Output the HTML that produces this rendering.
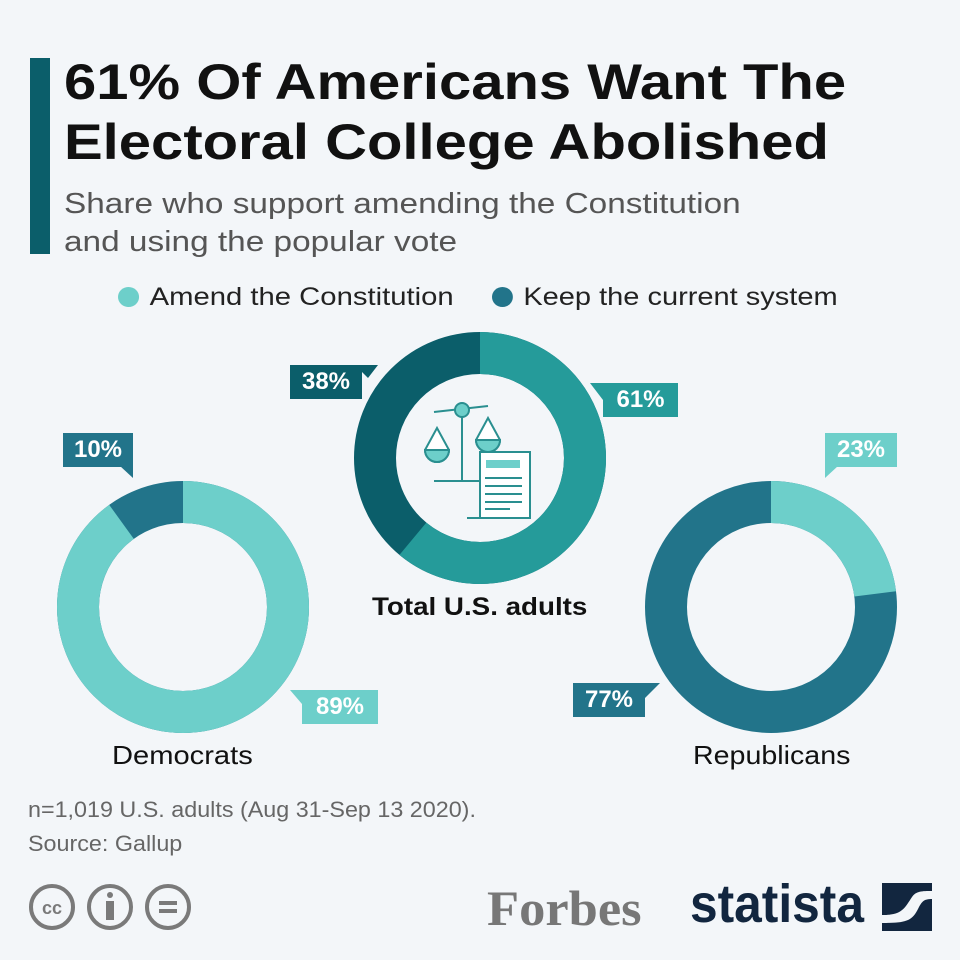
<!DOCTYPE html>
<html><head><style>
body{margin:0;width:960px;height:960px;background:#f3f6f9;font-family:"Liberation Sans",sans-serif;position:relative;overflow:hidden}
.a{position:absolute;white-space:nowrap;transform-origin:left top}
.lb{position:absolute;color:#fff;font-weight:bold;font-size:24px;text-align:center;line-height:34px;height:34px}
</style></head><body>
<div class="a" style="left:30px;top:58px;width:20px;height:196px;background:#0b5e6a"></div>
<div class="a" style="left:64px;top:52px;font-size:50px;font-weight:bold;line-height:60px;color:#111;transform:scaleX(1.16)">61% Of Americans Want The<br>Electoral College Abolished</div>
<div class="a" style="left:64px;top:185px;font-size:29px;line-height:38px;color:#555;transform:scaleX(1.15)">Share who support amending the Constitution<br>and using the popular vote</div>
<div class="a" style="left:118px;top:283px;font-size:25px;color:#222;transform:scaleX(1.17)"><span style="display:inline-block;width:18px;height:20px;border-radius:50%;background:#6dcfca;vertical-align:-2px;margin-right:9px"></span>Amend the Constitution</div>
<div class="a" style="left:492px;top:283px;font-size:25px;color:#222;transform:scaleX(1.16)"><span style="display:inline-block;width:18px;height:20px;border-radius:50%;background:#22748a;vertical-align:-2px;margin-right:9px"></span>Keep the current system</div>
<svg class="a" style="left:0;top:0" width="960" height="960">
<g transform="rotate(-90 480 458)" fill="none" stroke-width="42">
<circle cx="480" cy="458" r="105" stroke="#0b5e6a"/>
<circle cx="480" cy="458" r="105" stroke="#259b9a" stroke-dasharray="402.5 1000"/>
</g>
<g transform="rotate(-90 183 607)" fill="none" stroke-width="42">
<circle cx="183" cy="607" r="105" stroke="#22748a"/>
<circle cx="183" cy="607" r="105" stroke="#6dcfca" stroke-dasharray="593.8 1000"/>
</g>
<g transform="rotate(-90 771 607)" fill="none" stroke-width="42">
<circle cx="771" cy="607" r="105" stroke="#22748a"/>
<circle cx="771" cy="607" r="105" stroke="#6dcfca" stroke-dasharray="151.7 1000"/>
</g>
<g fill="none" stroke="#2a8f90" stroke-width="2">
<line x1="434" y1="412" x2="488" y2="406"/><circle cx="462" cy="410" r="7" fill="#6dcfca"/>
<line x1="462" y1="417" x2="462" y2="480"/><line x1="434" y1="481" x2="480" y2="481"/>
<path d="M437 428 L425 450 A12 12 0 0 0 449 450 Z" fill="#fff"/><path d="M425 450 A12 12 0 0 0 449 450Z" fill="#6dcfca"/>
<path d="M488 418 L476 440 A12 12 0 0 0 500 440 Z" fill="#fff"/><path d="M476 440 A12 12 0 0 0 500 440Z" fill="#6dcfca"/>
<rect x="480" y="452" width="50" height="66" fill="#fff"/>
<rect x="486" y="460" width="34" height="8" fill="#6dcfca" stroke="none"/>
<line x1="485" y1="478" x2="522" y2="478"/><line x1="485" y1="486" x2="522" y2="486"/><line x1="485" y1="494" x2="522" y2="494"/><line x1="485" y1="502" x2="522" y2="502"/><line x1="485" y1="509" x2="510" y2="509"/>
<line x1="467" y1="518" x2="520" y2="518"/>
</g>
<polygon points="355,365 378,365 368,378" fill="#0b5e6a"/>
<polygon points="603,383 590,383 603,400" fill="#259b9a"/>
<polygon points="120,466 133,466 133,478" fill="#22748a"/>
<polygon points="302,690 290,690 302,704" fill="#6dcfca"/>
<polygon points="825,466 838,466 825,478" fill="#6dcfca"/>
<polygon points="645,683 660,683 645,698" fill="#22748a"/>
</svg>
<div class="lb" style="left:290px;top:365px;width:72px;background:#0b5e6a">38%</div>
<div class="lb" style="left:603px;top:383px;width:75px;background:#259b9a">61%</div>
<div class="lb" style="left:63px;top:433px;width:70px;background:#22748a">10%</div>
<div class="lb" style="left:302px;top:690px;width:76px;background:#6dcfca">89%</div>
<div class="lb" style="left:825px;top:433px;width:72px;background:#6dcfca">23%</div>
<div class="lb" style="left:573px;top:683px;width:72px;background:#22748a">77%</div>
<div class="a" style="left:372px;top:593px;font-size:25px;font-weight:bold;color:#111;transform:scaleX(1.11)">Total U.S. adults</div>
<div class="a" style="left:112px;top:740px;font-size:26px;color:#111;transform:scaleX(1.12)">Democrats</div>
<div class="a" style="left:693px;top:740px;font-size:26px;color:#111;transform:scaleX(1.1)">Republicans</div>
<div class="a" style="left:28px;top:793px;font-size:22px;line-height:34px;color:#666;transform:scaleX(1.06)">n=1,019 U.S. adults (Aug 31-Sep 13 2020).<br>Source: Gallup</div>
<svg class="a" style="left:28px;top:882px" width="170" height="50" fill="none" stroke="#7a7a7a" stroke-width="4">
<circle cx="24" cy="25" r="21"/><text x="24" y="32" font-size="18" font-weight="bold" fill="#7a7a7a" stroke="none" text-anchor="middle" font-family="Liberation Sans">cc</text>
<circle cx="82" cy="25" r="21"/><circle cx="82" cy="13" r="3" fill="#7a7a7a" stroke="none"/><rect x="78" y="19" width="8" height="19" fill="#7a7a7a" stroke="none"/>
<circle cx="140" cy="25" r="21"/><rect x="131" y="19" width="18" height="4" fill="#7a7a7a" stroke="none"/><rect x="131" y="27" width="18" height="4" fill="#7a7a7a" stroke="none"/>
</svg>
<div class="a" style="left:487px;top:880px;font-family:'Liberation Serif',serif;font-weight:bold;font-size:50px;color:#777;line-height:56px;transform:scaleX(1.05)">Forbes</div>
<div class="a" style="left:690px;top:874px;font-weight:bold;font-size:54px;color:#12263f;line-height:60px;transform:scaleX(0.92)">statista</div>
<svg class="a" style="left:882px;top:883px" width="50" height="48"><rect width="50" height="48" fill="#12263f"/><path d="M0 32 C20 32 22 26 30 14 C34 8 40 8 50 8 L50 16 C42 16 40 18 36 26 C30 38 24 40 0 40Z" fill="#f3f6f9"/></svg>
</body></html>
